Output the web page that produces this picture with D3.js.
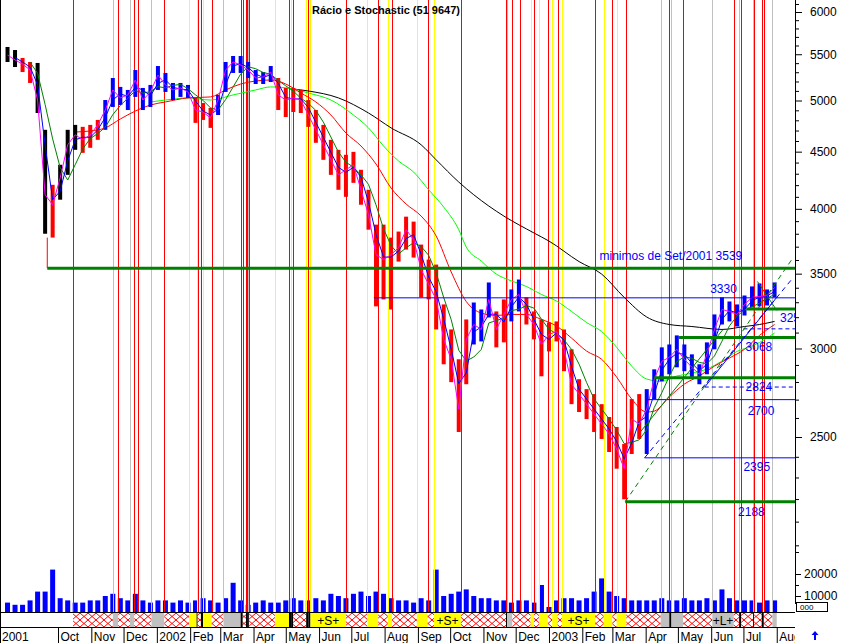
<!DOCTYPE html>
<html><head><meta charset="utf-8">
<script src="https://cdn.jsdelivr.net/npm/d3@7"></script>
<style>
html,body{margin:0;padding:0;background:#fff;}
svg{display:block;font-family:Arial,"Liberation Sans",sans-serif;}
</style></head><body>
<svg id="c" width="841" height="643"></svg>
<script>
// ---------------- DATA ----------------
const firstWeek = "2001-08-15";   // weekly samples, one per week
const weekHigh = [
 5583,5548,5458,5413,5402,4707,4203,4380,4707,4755,
 4736,4755,4804,5005,5237,5142,5110,5324,5131,5163,
 5368,5292,5184,5184,5163,5027,4974,4924,5058,5413,
 5480,5480,5413,5324,5302,5368,5237,5131,5131,5110,
 5005,4903,4755,4611,4517,4471,4498,4335,4160,3872,
 3872,3770,3817,3936,3896,3716,3603,3566,3285,3120,
 2934,3185,3298,3251,3437,3238,3319,3388,3458,3333,
 3238,3185,3165,3172,3120,2995,2816,2759,2731,2675,
 2605,2552,2464,2703,2731,2759,2874,3007,3025,3082,
 3025,2964,2904,3038,3218,3333,3305,3285,3346,3409,
 3430,3388,3437];
const weekLow = [
 5413,5357,5302,5184,4873,3800,3770,4076,4290,4517,
 4489,4536,4611,4707,4934,4954,4903,5037,4903,4934,
 5110,5089,5005,5037,5027,4775,4804,4726,4853,5089,
 5292,5292,5237,5173,5173,5194,4903,4833,4883,4873,
 4736,4583,4425,4290,4160,4100,4220,4034,3832,3272,
 3319,3251,3588,3678,3618,3333,3319,3120,2904,2799,
 2526,2787,3025,3044,3198,3007,3038,3172,3238,3152,
 3057,2833,2982,3044,2863,2675,2632,2594,2526,2490,
 2424,2342,2199,2414,2490,2414,2703,2804,2845,2886,
 2863,2828,2787,2845,2995,3152,3172,3139,3211,3265,
 3272,3278,3333];
const weekClose = [
 5491,5435,5390,5324,5005,4117,4034,4264,4564,4659,
 4611,4659,4755,4903,5110,5027,5058,5216,5005,5089,
 5270,5163,5110,5131,5089,4903,4883,4823,5005,5324,
 5413,5379,5324,5237,5248,5302,5058,5005,5027,5005,
 4853,4707,4564,4425,4290,4335,4380,4160,3952,3640,
 3603,3640,3693,3832,3754,3530,3423,3319,3057,2934,
 2648,3057,3152,3120,3319,3120,3218,3319,3353,3218,
 3152,3025,3088,3107,2995,2787,2731,2675,2621,2568,
 2515,2439,2342,2594,2568,2648,2816,2922,2946,2995,
 2934,2886,2845,2964,3120,3251,3238,3218,3285,3333,
 3339,3346,3402];
// trend state of each bar: k = none, r = down, b = up
const weekTrend = ("kkrrkkrkkk"+"rrrbbbbbbb"+"bbbbbrrrbb"+"bbbbbbrrrr"+"rrrrrrrrrr"+
                   "rrrrrrrrrr"+"rrbbbrrbbr"+"rrrrrrrrrr"+"rrrrrbbbbb"+"bbbbbbbbbb"+"bbb").split("");
const weekVolume = [
 7000,6000,6000,8000,12000,12000,22000,9000,8000,7000,
 7000,8000,8000,10000,11000,9000,8000,11000,8000,7000,
 8000,8000,7000,8000,7000,8000,9000,8000,7000,9000,
 16000,8000,6000,7000,8000,7000,7000,8000,9000,8000,
 8000,9000,8000,11000,10000,9000,11000,12000,10000,12000,
 11000,9000,8000,8000,7000,9000,8000,22000,10000,11000,
 12000,13000,10000,9000,9000,8000,8000,7000,8000,8000,
 7000,15000,5000,8000,9000,9000,8000,9000,12000,18000,
 12000,10000,9000,8000,8000,8000,8000,9000,8000,8000,
 9000,8000,8000,9000,8000,13000,9000,8000,8000,8000,
 7000,8000,8000];

// long moving averages (week index -> value)
const ma200Weeks = [38,40,44,48,51,55,57,60,64,66,70,72,76,79,82,85,88,91,95,98,100,102];
const ma200 = [5120,5099,5027,4873,4726,4564,4425,4227,4023,3941,3806,3743,3588,3497,3333,3201,3152,3139,3120,3139,3152,3172];
const ma100Weeks = [19,21,24,27,30,33,35,38,40,43,46,48,50,52,54,56,58,60,61,63,65,67,69,71,73,75,77,79,81,83,85,87,89,91,93,95,97,99,101,102];
const ma100 = [4985,5005,5027,5005,5058,5110,5142,5121,5078,5005,4853,4726,4553,4414,4315,4160,4015,3832,3697,3592,3497,3448,3409,3353,3308,3238,3165,3107,3007,2893,2817,2804,2835,2851,2876,2923,2982,3015,3065,3097];
const ma50Weeks = [9,11,13,15,17,19,21,24,27,29,31,33,35,37,39,41,43,45,47,49,51,53,55,57,59,61,63,65,67,69,71,73,75,77,79,81,83,85,86,88,90,92,94,96,98,100,102];
const ma50 = [4686,4696,4726,4813,4893,4954,4985,5027,5037,5110,5173,5205,5216,5173,5078,4985,4853,4676,4553,4387,4175,4040,3941,3782,3512,3305,3227,3211,3218,3218,3185,3142,3065,2984,2934,2828,2703,2632,2637,2715,2788,2835,2893,2942,2995,3082,3152];

// signals (vertical lines): r = sell, y = buy, g = neutral
const signalDates = [
 "2001-10-15","2001-11-21","2001-11-26","2001-12-07","2001-12-11","2001-12-14","2001-12-27","2002-01-08",
 "2002-01-31","2002-02-07","2002-02-08","2002-02-11","2002-02-13","2002-02-21","2002-03-04","2002-03-20",
 "2002-03-22","2002-03-25","2002-03-26","2002-03-27","2002-03-28","2002-04-21","2002-05-04","2002-05-06",
 "2002-05-08","2002-05-20","2002-05-22","2002-05-24","2002-06-26","2002-07-16","2002-07-26","2002-08-04",
 "2002-08-08","2002-08-31","2002-09-10","2002-09-16","2002-10-11","2002-11-22","2002-11-23","2002-11-28",
 "2002-12-05","2002-12-15","2002-12-18","2002-12-23","2002-12-31","2003-01-04","2003-01-09","2003-01-13",
 "2003-02-13","2003-02-21","2003-03-01","2003-03-05","2003-03-14","2003-04-15","2003-04-23","2003-04-25",
 "2003-05-06","2003-06-02","2003-06-22","2003-06-27","2003-06-29","2003-07-10","2003-07-11","2003-07-18",
 "2003-07-20","2003-07-28"];
const signalKinds = [
 "r","g","r","g","r","r","g","r",
 "y","y","r","r","y","r","g","r",
 "r","r","r","g","r","y","r","y",
 "r","y","r","y","r","y","r","y",
 "r","y","r","y","r","r","g","r",
 "r","y","r","y","r","y","r","y",
 "r","y","r","y","r","g","r","g",
 "r","g","r","g","r","g","r","r",
 "r","g"];
const dataEnd = "2003-08-01";

// support / resistance levels
const levelValues = [3539, 3330, 3254, 3124, 3068, 2824, 2771, 2700, 2395, 2188];
const levelStarts = ["2001-09-21","2002-07-22","2003-07-04","2003-07-01","2003-05-02","2003-04-09","2003-05-26","2003-04-03","2003-03-31","2003-03-13"];
const levelKinds  = ["thick","thin","thick","dash","thick","thick","dash","thin","thin","thick"];
const labelTexts  = ["minimos de Set/2001 3539","3330","3254","3068","2824","2700","2395","2188"];
const labelDates  = ["2003-02-17","2003-05-31","2003-08-04","2003-07-03","2003-07-03","2003-07-05","2003-07-01","2003-06-26"];
const labelValues = [3539,3330,3254,3068,2824,2700,2395,2188];
const labelOffsets = [-8,-5,13,13,13,15,13,14];

// trend lines
const trendStart = [["2003-03-13",2188],["2003-03-31",2395],["2003-05-26",2771],["2003-03-27",2526],["2003-07-14",3444]];
const trendEnd   = [["2003-08-16",3615],["2003-08-16",3469],["2003-08-01",3333],["2003-06-12",3120],["2003-08-01",3245]];
const trendKinds = ["gdash","bdash","b","g","g"];

const priceTicks = [2500,3000,3500,4000,4500,5000,5500,6000];
const volumeTicks = [10000,20000];
const titleText = "Rácio e Stochastic (51 9647)";

// ---------------- DRAW ----------------
const parse = d3.timeParse("%Y-%m-%d");
const svg = d3.select("#c");
const PR = 795;
svg.append("rect").attr("width",841).attr("height",643).attr("fill","#fff");

const x = d3.scaleTime().domain([parse("2001-08-08"), parse("2003-08-18")]).range([0, PR]);
const y = d3.scaleLog().domain([2500, 6000]).range([437, 12]);
const yv = d3.scaleLinear().domain([0, 20000]).range([618, 574]);
const wk = weekClose.map((d,i) => d3.timeDay.offset(parse(firstWeek), 7*i));

const defs = svg.append("defs");
defs.append("clipPath").attr("id","plot").append("rect").attr("x",0).attr("y",0).attr("width",PR).attr("height",612);
defs.append("clipPath").attr("id","full").append("rect").attr("x",0).attr("y",0).attr("width",PR).attr("height",643);
const pat = defs.append("pattern").attr("id","hatch").attr("patternUnits","userSpaceOnUse")
  .attr("width",8).attr("height",7).attr("x",0).attr("y",613);
pat.append("rect").attr("width",8).attr("height",7).attr("fill","#fff");
pat.append("path").attr("d","M0,0L8,7M8,0L0,7").attr("stroke","#ff0000").attr("stroke-width",1).attr("fill","none");

const gp = svg.append("g").attr("clip-path","url(#plot)");

// volume
gp.append("g").selectAll("rect").data(weekVolume).join("rect")
  .attr("x",(d,i)=>x(wk[i])-2.5).attr("width",5)
  .attr("y",d=>yv(d)).attr("height",d=>yv(0)-yv(d)).attr("fill","#0000ff");

// signal lines
const sigColor = {r:"#ff0000", y:"#ffff00", g:"#c0c0c0"};
gp.append("g").selectAll("line").data(signalDates).join("line")
  .attr("x1",d=>Math.round(x(parse(d)))+0.5).attr("x2",d=>Math.round(x(parse(d)))+0.5)
  .attr("y1",0).attr("y2",612)
  .attr("stroke",(d,i)=>sigColor[signalKinds[i]]).attr("stroke-width",1);

// long MAs
function sparseLine(weeks, vals, color){
  const pts = weeks.map((w,i)=>[x(wk[w]), y(vals[i])]);
  gp.append("path").attr("d", d3.line().curve(d3.curveMonotoneX)(pts))
    .attr("fill","none").attr("stroke",color).attr("stroke-width",1);
}
sparseLine(ma200Weeks, ma200, "#000000");
sparseLine(ma100Weeks, ma100, "#00ff00");
sparseLine(ma50Weeks, ma50, "#ff0000");

// price bars
const trendColor = {k:"#000000", r:"#ff0000", b:"#0000ff"};
gp.append("g").selectAll("rect").data(weekClose).join("rect")
  .attr("x",(d,i)=>x(wk[i])-2).attr("width",4)
  .attr("y",(d,i)=>y(weekHigh[i])).attr("height",(d,i)=>y(weekLow[i])-y(weekHigh[i]))
  .attr("fill",(d,i)=>trendColor[weekTrend[i]]);

// short MAs derived from closes
function movAvg(arr, n){ return arr.map((v,i)=> i<n-1 ? null : d3.mean(arr.slice(i-n+1,i+1))); }
function denseLine(vals, color){
  const ln = d3.line().defined(d=>d!=null).x((d,i)=>x(wk[i])).y(d=>y(d));
  gp.append("path").attr("d", ln(vals)).attr("fill","none").attr("stroke",color).attr("stroke-width",1);
}
denseLine(movAvg(weekClose,4), "#008000");
denseLine(movAvg(weekClose,2), "#0000ff");
denseLine(weekClose, "#ff00ff");

// levels
levelValues.forEach((v,i)=>{
  const k = levelKinds[i];
  gp.append("line").attr("x1",x(parse(levelStarts[i]))).attr("x2",PR)
    .attr("y1",y(v)).attr("y2",y(v))
    .attr("stroke", k==="thick" ? "#008000" : "#0000ff")
    .attr("stroke-width", k==="thick" ? 3 : 1)
    .attr("stroke-dasharray", k==="dash" ? "4,3" : null);
});
// stem from Sep/2001 low to level
gp.append("line").attr("x1",x(parse(levelStarts[0]))).attr("x2",x(parse(levelStarts[0])))
  .attr("y1",y(weekLow[6])).attr("y2",y(levelValues[0])).attr("stroke","#ff0000");

// trend lines
trendStart.forEach((s,i)=>{
  const e = trendEnd[i], k = trendKinds[i];
  gp.append("line").attr("x1",x(parse(s[0]))).attr("y1",y(s[1]))
    .attr("x2",x(parse(e[0]))).attr("y2",y(e[1]))
    .attr("stroke", k[0]==="g" ? "#008000" : "#0000ff").attr("stroke-width",1)
    .attr("stroke-dasharray", k.endsWith("dash") ? "5,4" : null);
});

// labels
gp.append("g").selectAll("text").data(labelTexts).join("text")
  .attr("x",(d,i)=>x(parse(labelDates[i]))).attr("y",(d,i)=>y(labelValues[i])+labelOffsets[i])
  .attr("fill","#0000ff").attr("font-size",12).text(d=>d);

// signal strip
const gs = svg.append("g").attr("clip-path","url(#full)");
const sx = signalDates.map(d=>x(parse(d)));
const segs = sx.map((s,i)=>({x0:s, x1: i<sx.length-1 ? sx[i+1] : x(parse(dataEnd)), k:signalKinds[i]}));
gs.selectAll("rect.seg").data(segs).join("rect")
  .attr("x",d=>d.x0).attr("width",d=>Math.max(0,d.x1-d.x0)).attr("y",613).attr("height",14)
  .attr("fill",d=> (d.x1-d.x0)<3 ? "#000" : d.k==="r" ? "url(#hatch)" : d.k==="y" ? "#ffff00" : "#c0c0c0");
gs.selectAll("text.seg").data(segs.filter(d=>d.k!=="r" && d.x1-d.x0>=20)).join("text")
  .attr("x",d=>(d.x0+d.x1)/2).attr("y",625).attr("text-anchor","middle").attr("font-size",12)
  .text(d=> d.k==="y" ? "+S+" : "+L+");
svg.append("line").attr("x1",0).attr("x2",PR).attr("y1",612.5).attr("y2",612.5).attr("stroke","#000");
svg.append("line").attr("x1",0).attr("x2",PR).attr("y1",627.5).attr("y2",627.5).attr("stroke","#000");
svg.append("line").attr("x1",0.5).attr("x2",0.5).attr("y1",0).attr("y2",643).attr("stroke","#000");

// date axis
const months = d3.timeMonth.range(parse("2001-10-01"), parse("2003-08-02"));
const gxo = svg.append("g").attr("clip-path","url(#full)");
const gx = gxo.append("g").attr("transform","translate(0,628)")
  .call(d3.axisBottom(x).tickValues(months).tickSize(15)
    .tickFormat(d => d.getMonth()===0 ? d3.timeFormat("%Y")(d) : d3.timeFormat("%b")(d)));
gx.select(".domain").remove();
gx.selectAll("text").attr("text-anchor","start").attr("x",2).attr("y",13).attr("dy",null)
  .attr("font-size",12).attr("font-family","Arial, Liberation Sans, sans-serif").attr("fill","#000");
gxo.append("text").attr("x",2).attr("y",641).attr("font-size",12).text("2001");

// price axis
const ga = svg.append("g").attr("transform",`translate(${PR},0)`);
const minorTicks = d3.range(2000, 6200, 100).filter(v => !priceTicks.includes(v));
ga.append("g").call(d3.axisRight(y).tickValues(minorTicks).tickSize(4).tickFormat("")).select(".domain").remove();
const gm = ga.append("g").call(d3.axisRight(y).tickValues(priceTicks).tickSize(7).tickPadding(8).tickFormat(d3.format("d")));
gm.select(".domain").remove();
const gv = ga.append("g").call(d3.axisRight(yv).tickValues(volumeTicks).tickSize(6).tickPadding(3).tickFormat(d3.format("d")));
gv.select(".domain").remove();
ga.append("g").call(d3.axisRight(yv).tickValues([15000,30000]).tickSize(4).tickFormat("")).select(".domain").remove();
ga.selectAll("text").attr("font-size",12).attr("font-family","Arial, Liberation Sans, sans-serif").attr("fill","#000");
ga.selectAll("line").attr("stroke","#000");
svg.append("line").attr("x1",PR+0.5).attr("x2",PR+0.5).attr("y1",0).attr("y2",604).attr("stroke","#000");
// small scroll box
svg.append("rect").attr("x",796.5).attr("y",602.5).attr("width",31).attr("height",9).attr("fill","#fff").attr("stroke","#000");
svg.append("text").attr("x",800).attr("y",610).attr("font-size",8).text("000");
// blue arrow
svg.append("path").attr("d","M815,631 l-3.5,4 h2.5 v5 h2 v-5 h2.5 z").attr("fill","#0000ff");

// title
svg.append("text").attr("x",312).attr("y",14).attr("font-size",11).attr("fill","#000")
  .attr("font-weight","bold").text(titleText);
</script>
</body></html>
